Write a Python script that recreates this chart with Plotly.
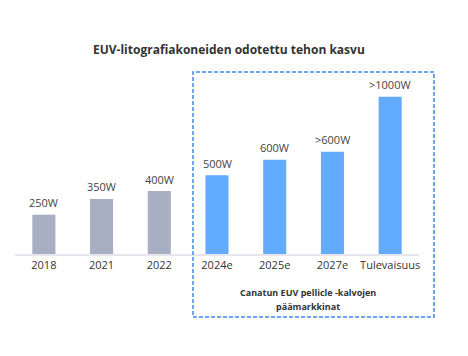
import plotly.graph_objects as go

categories = ["2018", "2021", "2022", "2024e", "2025e", "2027e", "Tulevaisuus"]
values = [250, 350, 400, 500, 600, 650, 1000]
labels = ["250W", "350W", "400W", "500W", "600W", ">600W", ">1000W"]
colors = ["#A9AFC3", "#A9AFC3", "#A9AFC3", "#62ABFF", "#62ABFF", "#62ABFF", "#62ABFF"]

title = "EUV-litografiakoneiden odotettu tehon kasvu"
caption_lines = ["Canatun EUV pellicle -kalvojen", "päämarkkinat"]

FONT = "Open Sans"
OFF = 8  # page body margin offset

def px(xp):
    return (xp - 15) / 404

def py(yp):
    return (254 - yp) / 173

fig = go.Figure()
fig.add_trace(go.Bar(
    x=categories, y=values,
    marker=dict(color=colors, line=dict(width=0)),
    width=0.4, hoverinfo="skip",
))

annotations = [
    dict(text=lab, x=i, y=v, xref="x", yref="y", showarrow=False,
         xanchor="center", yanchor="middle", yshift=12,
         font=dict(size=11, color="#444", family=FONT))
    for i, (v, lab) in enumerate(zip(values, labels))
]
annotations.append(
    dict(text="<b>" + title + "</b>", xref="paper", yref="paper",
         x=px(229), y=py(49), showarrow=False,
         xanchor="center", yanchor="middle",
         font=dict(size=12, color="#333", family=FONT)))
for k, line in enumerate(caption_lines):
    annotations.append(
        dict(text="<b>" + line + "</b>", xref="paper", yref="paper",
             x=px(308), y=py(292 + 14 * k), showarrow=False,
             xanchor="center", yanchor="middle",
             font=dict(size=9, color="#333", family=FONT)))

fig.update_layout(
    width=468 - OFF, height=356 - OFF,
    margin=dict(l=15 - OFF, r=49, t=81 - OFF, b=102, autoexpand=False),
    paper_bgcolor="white", plot_bgcolor="white",
    showlegend=False,
    font=dict(family=FONT, color="#333"),
    xaxis=dict(type="category", range=[-0.5, 6.5], showgrid=False, showline=True,
               linecolor="#E6E6EC", linewidth=2, ticks="",
               tickfont=dict(size=11, color="#333", family=FONT)),
    yaxis=dict(range=[0, 1100], visible=False),
    annotations=annotations,
    shapes=[dict(type="rect", xref="paper", yref="paper",
                 x0=px(193), x1=px(434), y0=py(317), y1=py(72),
                 line=dict(color="#3B8BEB", width=1.5, dash="4px,2px"))],
)

fig.write_html("out.html")
